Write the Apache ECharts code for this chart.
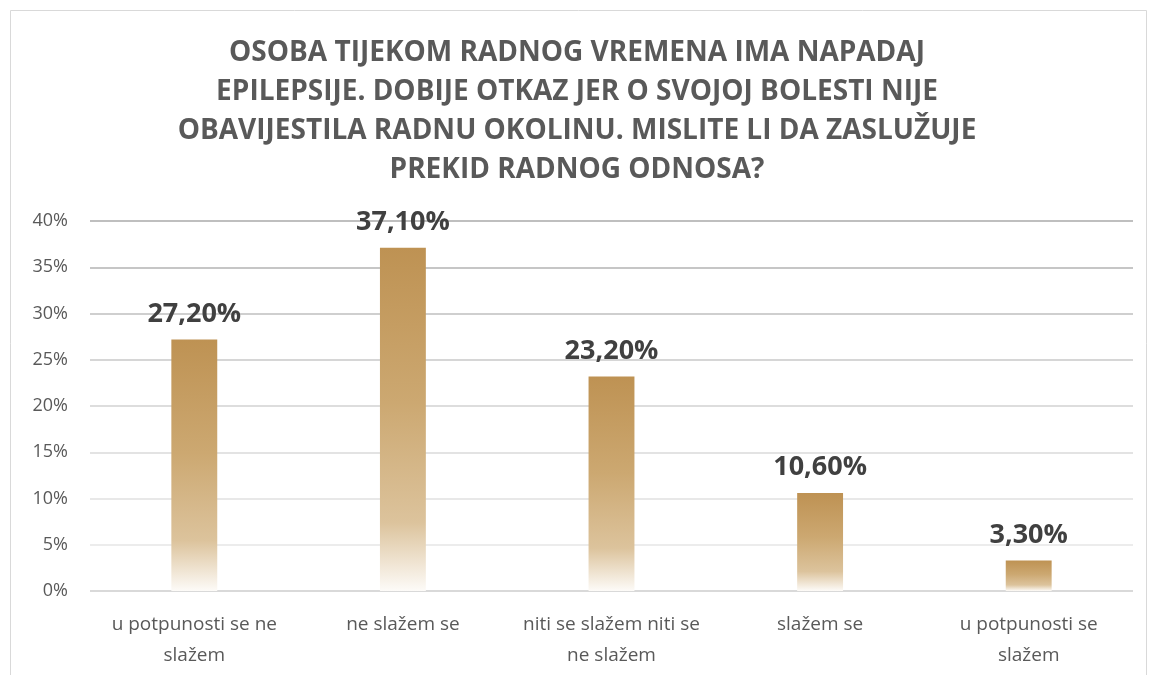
<!DOCTYPE html>
<html>
<head>
<meta charset="utf-8">
<script src="https://cdn.jsdelivr.net/npm/echarts@6/dist/echarts.min.js"></script>
<style>
  html, body { margin: 0; padding: 0; background: #fff; }
  #chart { width: 1154px; height: 675px; }
</style>
</head>
<body>
<div id="chart"></div>
<script>
const titleLines = [
  'OSOBA TIJEKOM RADNOG VREMENA IMA NAPADAJ',
  'EPILEPSIJE. DOBIJE OTKAZ JER O SVOJOJ BOLESTI NIJE',
  'OBAVIJESTILA RADNU OKOLINU. MISLITE LI DA ZASLUŽUJE',
  'PREKID RADNOG ODNOSA?'
]
const categories = [
  'u potpunosti se ne\nslažem',
  'ne slažem se',
  'niti se slažem niti se\nne slažem',
  'slažem se',
  'u potpunosti se\nslažem'
]
const values = [27.2, 37.1, 23.2, 10.6, 3.3]

// gridlines get darker toward the top (0% .. 40%)
const gridColors = ['#d9d9d9', '#ececec', '#e8e8e8', '#e3e3e3', '#dddddd', '#d6d6d6', '#cfcfcf', '#c6c6c6', '#bfbfbf']

const chart = echarts.init(document.getElementById('chart'), null, { renderer: 'canvas' })

const option = {
  backgroundColor: '#fff',
  animation: false,
  graphic: [
    {
      type: 'rect',
      shape: { x: 10.5, y: 10.5, width: 1136, height: 700 },
      style: { fill: 'none', stroke: '#d9d9d9', lineWidth: 1 },
      silent: true
    }
  ],
  title: {
    text: titleLines.join('\n'),
    left: 'center',
    top: 29,
    textStyle: {
      fontFamily: 'Open Sans',
      fontWeight: 'bold',
      fontSize: 28,
      lineHeight: 39,
      color: '#595959'
    }
  },
  grid: {
    left: 90,
    right: 21,
    top: 221,
    bottom: 84,
    containLabel: false
  },
  xAxis: {
    type: 'category',
    data: categories,
    axisLine: { show: false },
    axisTick: { show: false },
    axisLabel: {
      fontFamily: 'Open Sans',
      fontSize: 19,
      lineHeight: 31,
      color: '#595959',
      margin: 18,
      interval: 0
    }
  },
  yAxis: {
    type: 'value',
    min: 0,
    max: 40,
    interval: 5,
    axisLine: { show: false },
    axisTick: { show: false },
    axisLabel: {
      fontFamily: 'Open Sans',
      fontSize: 18,
      color: '#595959',
      margin: 22,
      formatter: '{value}%'
    },
    splitLine: {
      lineStyle: { color: gridColors, width: 2 }
    }
  },
  series: [
    {
      type: 'bar',
      data: values,
      barWidth: '22%',
      itemStyle: {
        color: new echarts.graphic.LinearGradient(0, 0, 0, 1, [
          { offset: 0, color: '#be9253' },
          { offset: 0.45, color: '#cca871' },
          { offset: 0.8, color: '#dcc39c' },
          { offset: 1, color: '#fdfbf8' }
        ])
      },
      label: {
        show: true,
        position: 'top',
        distance: 12,
        fontFamily: 'Open Sans',
        fontWeight: 'bold',
        fontSize: 27,
        color: '#404040',
        formatter: p => p.value.toFixed(2).replace('.', ',') + '%'
      }
    }
  ]
}

chart.setOption(option)
</script>
</body>
</html>
